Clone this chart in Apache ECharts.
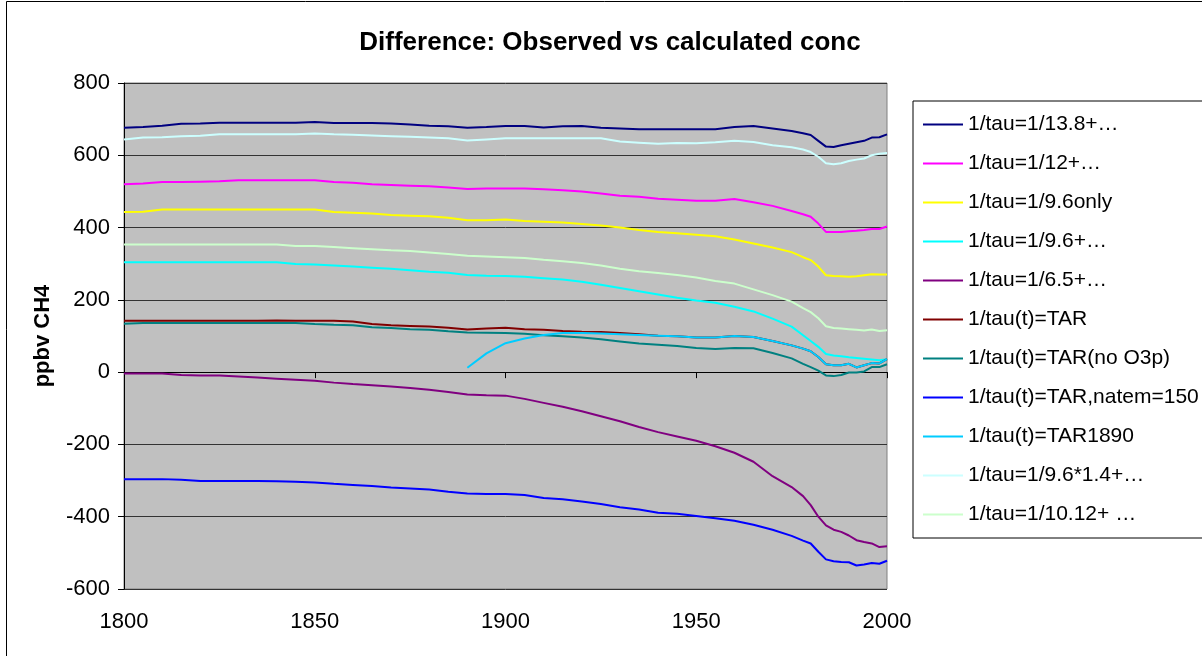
<!DOCTYPE html>
<html>
<head>
<meta charset="utf-8">
<script src="https://cdn.jsdelivr.net/npm/echarts@6/dist/echarts.min.js"></script>
<style>
  html, body { margin: 0; padding: 0; background: #fff; }
  #chart { width: 1202px; height: 656px; }
</style>
</head>
<body>
<div id="chart"></div>
<script>
// Sample years (5-yearly, denser after 1975)
const years = [1800,1805,1810,1815,1820,1825,1830,1835,1840,1845,1850,1855,1860,1865,1870,1875,1880,1885,1890,1895,1900,1905,1910,1915,1920,1925,1930,1935,1940,1945,1950,1955,1960,1965,1970,1975,1978,1980,1982,1984,1986,1988,1990,1992,1994,1996,1998,2000];

// Observed minus calculated CH4 (ppbv) for each lifetime assumption
const tau138 = [676,678,682,687,688,690,690,690,690,690,692,689,689,689,688,685,682,680,676,678,681,681,677,680,681,676,674,672,672,672,672,672,678,681,674,667,661,656,640,624,623,628,632,636,640,649,650,658];
const tau12 = [520,522,526,526,527,528,531,531,531,531,531,526,524,520,518,516,514,511,507,508,508,508,506,503,500,494,488,485,480,477,474,474,479,470,460,446,437,430,411,388,388,388,390,391,393,396,396,403];
const tau96only = [443,444,450,450,450,450,450,450,450,450,450,443,441,439,435,433,431,427,420,420,422,418,416,414,410,406,400,393,388,384,380,376,367,356,345,332,318,310,292,268,266,265,264,265,268,271,270,270];
const tau96 = [304,304,304,304,304,304,304,304,304,299,298,295,292,289,286,282,278,275,269,267,266,264,260,256,250,242,233,224,215,206,198,192,181,168,148,126,102,86,70,50,46,44,41,39,37,35,33,36];
const tau65 = [-4,-4,-4,-8,-9,-9,-12,-15,-18,-21,-24,-29,-33,-36,-40,-44,-49,-55,-62,-64,-65,-74,-85,-96,-108,-122,-136,-152,-166,-178,-190,-205,-223,-248,-288,-318,-343,-368,-400,-424,-436,-442,-452,-465,-470,-474,-484,-482];
const tauTAR = [142,142,142,142,142,142,142,142,143,142,142,142,140,133,130,128,126,123,118,121,123,119,117,114,112,111,108,105,101,99,96,96,100,97,86,74,65,58,42,22,19,19,23,13,19,25,24,36];
const tauTARnoO3p = [134,136,136,136,136,136,136,136,136,136,133,131,130,124,122,119,117,113,110,109,108,106,102,99,96,91,85,79,76,72,67,64,67,66,53,38,23,14,4,-9,-11,-8,-1,-1,2,14,14,22];
const tauTARnatem = [-296,-296,-296,-298,-301,-301,-301,-301,-302,-303,-305,-309,-312,-315,-319,-322,-325,-331,-336,-337,-337,-340,-348,-352,-358,-365,-374,-380,-389,-392,-398,-404,-411,-422,-436,-453,-466,-474,-497,-518,-523,-525,-526,-535,-532,-528,-530,-522];
const tauTAR1890 = [null,null,null,null,null,null,null,null,null,null,null,null,null,null,null,null,null,null,12,52,80,93,103,108,108,107,105,103,101,99,96,96,100,97,86,74,65,58,42,22,19,19,23,13,19,25,24,36];
const tau96x14 = [644,649,650,653,654,658,658,658,658,658,660,658,657,655,653,651,649,647,641,644,647,647,647,647,647,647,638,635,632,634,633,636,640,637,628,622,616,609,596,578,575,578,584,588,591,600,604,606];
const tau1012 = [353,353,353,353,353,353,353,353,353,349,349,346,343,340,337,335,331,327,322,320,318,316,311,307,302,295,286,279,274,269,262,252,245,229,213,195,177,166,149,127,122,121,119,117,115,118,114,116];

const seriesNames = ['1/tau=1/13.8+…','1/tau=1/12+…','1/tau=1/9.6only','1/tau=1/9.6+…','1/tau=1/6.5+…','1/tau(t)=TAR','1/tau(t)=TAR(no O3p)','1/tau(t)=TAR,natem=150','1/tau(t)=TAR1890','1/tau=1/9.6*1.4+…','1/tau=1/10.12+ …'];
const seriesValues = [tau138, tau12, tau96only, tau96, tau65, tauTAR, tauTARnoO3p, tauTARnatem, tauTAR1890, tau96x14, tau1012];
const seriesColors = ['#000080','#FF00FF','#FFFF00','#00FFFF','#800080','#800000','#008080','#0000FF','#00CCFF','#CCFFFF','#CCFFCC'];

const yTicks = { min: -600, max: 800, step: 200 };
const xTicks = { min: 1800, max: 2000, step: 50 };

const FONT = 'Liberation Sans, Arial, sans-serif';

const series = seriesNames.map((name, k) => ({
  name,
  type: 'line',
  xAxisIndex: 0,
  yAxisIndex: 0,
  symbol: 'none',
  showSymbol: false,
  animation: false,
  lineStyle: { color: seriesColors[k], width: 2 },
  itemStyle: { color: seriesColors[k] },
  data: years.map((y, i) => [y, seriesValues[k][i]]).filter(p => p[1] !== null)
}));

const chart = echarts.init(document.getElementById('chart'), null, { renderer: 'canvas' });
chart.setOption({
  animation: false,
  backgroundColor: '#ffffff',
  graphic: [{
    type: 'rect',
    shape: { x: 6.5, y: 1.5, width: 1300, height: 700 },
    style: { fill: 'none', stroke: '#000', lineWidth: 1 },
    z: -10
  }],
  title: {
    text: 'Difference: Observed vs calculated conc',
    left: 605,
    top: 25,
    textAlign: 'center',
    textStyle: { fontFamily: FONT, fontWeight: 'bold', fontSize: 26, color: '#000' }
  },
  grid: {
    left: 124, top: 83, width: 763, height: 506,
    show: true,
    backgroundColor: '#C0C0C0',
    borderColor: '#808080',
    borderWidth: 1
  },
  legend: {
    orient: 'vertical',
    left: 913,
    top: 101,
    icon: 'rect',
    itemWidth: 40,
    itemHeight: 2,
    itemGap: 18,
    padding: [13, 10, 13, 10],
    borderColor: '#000',
    borderWidth: 1,
    backgroundColor: '#fff',
    textStyle: { fontFamily: FONT, fontSize: 21, color: '#000' },
    data: seriesNames
  },
  xAxis: [{
    type: 'value',
    min: xTicks.min, max: xTicks.max, interval: xTicks.step,
    position: 'bottom',
    axisLine: { show: false, onZero: false },
    axisTick: { show: false },
    splitLine: { show: false },
    axisLabel: { fontFamily: FONT, fontSize: 22, color: '#000', margin: 22, formatter: v => String(v) }
  }, {
    type: 'value',
    min: xTicks.min, max: xTicks.max, interval: xTicks.step,
    position: 'bottom',
    axisLine: { show: true, onZero: true, lineStyle: { color: '#000', width: 1 } },
    axisTick: { show: true, length: 6, lineStyle: { color: '#000' } },
    splitLine: { show: false },
    axisLabel: { show: false }
  }],
  yAxis: {
    type: 'value',
    min: yTicks.min, max: yTicks.max, interval: yTicks.step,
    name: 'ppbv CH4',
    nameLocation: 'middle',
    nameGap: 70,
    nameTextStyle: { fontFamily: FONT, fontWeight: 'bold', fontSize: 22, color: '#000' },
    axisLine: { show: true, lineStyle: { color: '#000', width: 1 } },
    axisTick: { show: true, length: 6, lineStyle: { color: '#000' } },
    splitLine: { show: true, lineStyle: { color: '#333', width: 1 } },
    axisLabel: { fontFamily: FONT, fontSize: 22, color: '#000', margin: 14 }
  },
  series
});
</script>
</body>
</html>
